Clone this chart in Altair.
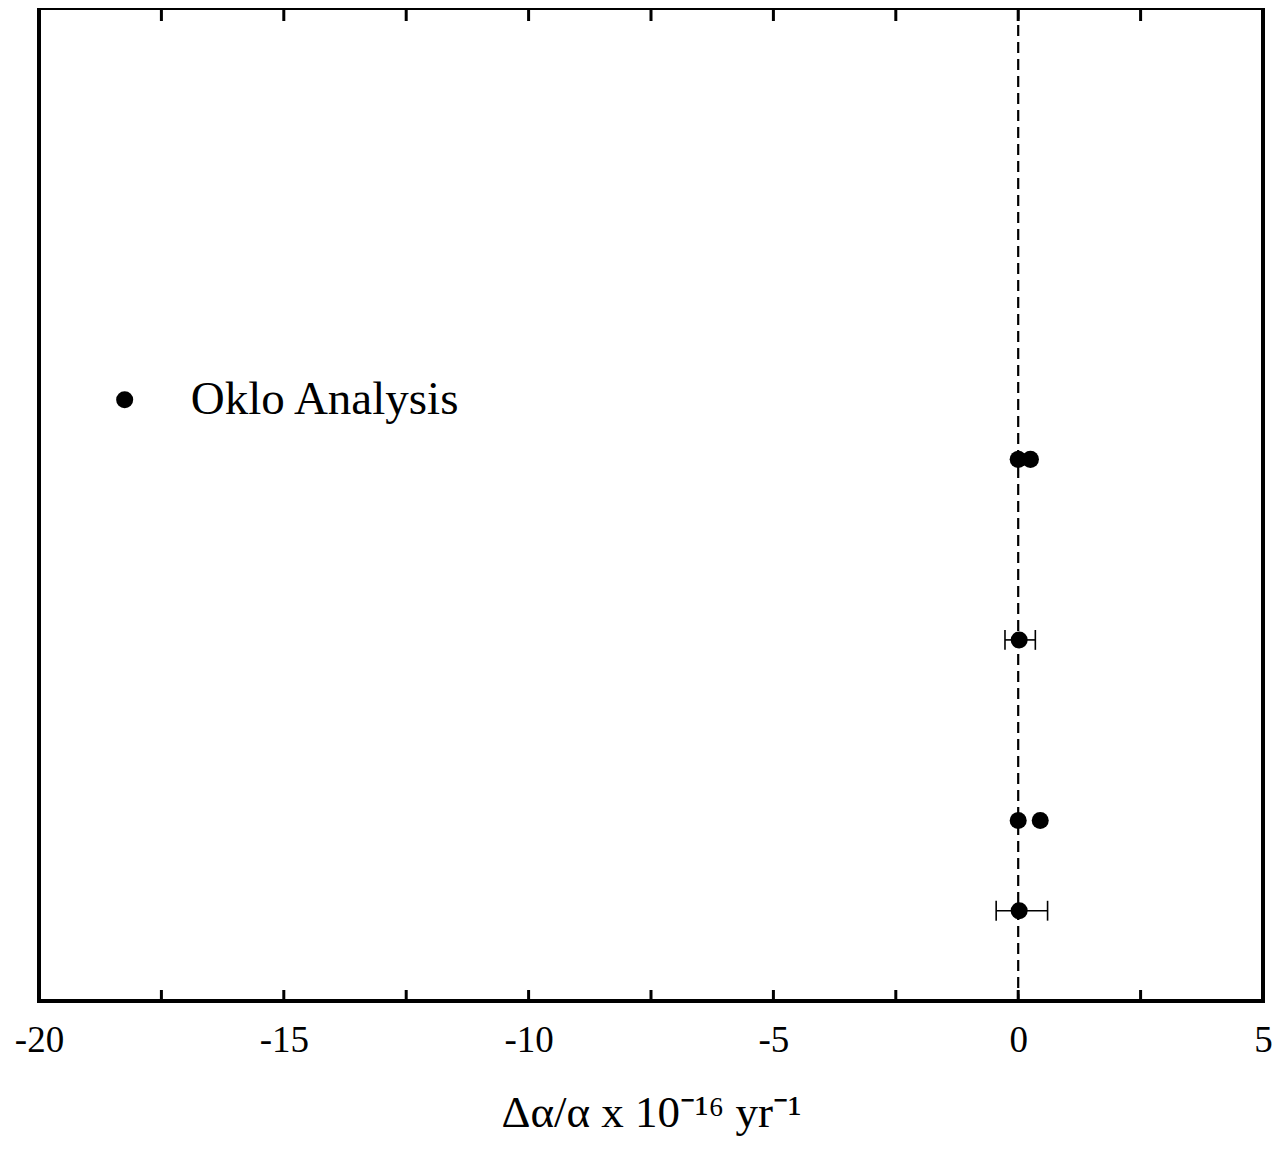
import altair as alt
import pandas as pd

# Data
pt_x = [0.0, 0.25, 0.02, 0.0, 0.45, 0.02]
pt_y = [6, 6, 4, 2, 2, 1]

err_lo = [-0.27, -0.45]
err_hi = [0.35, 0.6]
err_y = [4, 1]

minor_ticks = [-17.5, -15, -12.5, -10, -7.5, -5, -2.5, 0, 2.5]
label_ticks = [-20, -15, -10, -5, 0, 5]

legend_label = ["Oklo Analysis"]

FONT = "Liberation Serif"
W, H = 1224, 993
CAP = 0.11  # half cap height in y units
xs = alt.Scale(domain=[-20, 5], nice=False, zero=False)
ys = alt.Scale(domain=[0, 11], nice=False, zero=False)

pts = pd.DataFrame({"x": pt_x, "y": pt_y})
errs = pd.DataFrame({"lo": err_lo, "hi": err_hi, "y": err_y})
ticks = pd.DataFrame({"x": minor_ticks})
leg = pd.DataFrame({"label": legend_label, "xd": [-18.25], "xt": [-16.9], "y": [6.66]})

base_x = alt.X("x:Q", scale=xs,
               axis=alt.Axis(values=label_ticks, ticks=False, domain=False, grid=False,
                             labelFont=FONT, labelFontSize=37, labelColor="black",
                             labelPadding=21, labelExpr="'' + datum.value",
                             labelFlush=False, labelOverlap=False, labelBound=False,
                             title="Δα/α x 10⁻¹⁶ yr⁻¹", titleFont=FONT, titleFontSize=45,
                             titleFontWeight="normal", titleColor="black", titlePadding=32))
base_y = alt.Y("y:Q", scale=ys, axis=None)

points = alt.Chart(pts).mark_point(filled=True, shape="circle", size=290, color="black", opacity=1).encode(
    x=base_x, y=base_y)

zero_line = alt.Chart(pd.DataFrame({"x": [0]})).mark_rule(
    color="black", strokeWidth=2.2, strokeDash=[11, 6]
).encode(x=alt.X("x:Q", scale=xs), y=alt.value(0), y2=alt.value(H))

top_ticks = alt.Chart(ticks).mark_rule(color="black", strokeWidth=3).encode(
    x=alt.X("x:Q", scale=xs), y=alt.value(0), y2=alt.value(13))
bot_ticks = alt.Chart(ticks).mark_rule(color="black", strokeWidth=3).encode(
    x=alt.X("x:Q", scale=xs), y=alt.value(H - 11), y2=alt.value(H))

bars = alt.Chart(errs).mark_rule(color="black", strokeWidth=1.6).encode(
    x=alt.X("lo:Q", scale=xs), x2="hi:Q", y=alt.Y("y:Q", scale=ys))
caps_src = alt.Chart(errs).transform_calculate(
    y0=f"datum.y - {CAP}", y1=f"datum.y + {CAP}")
cap_lo = caps_src.mark_rule(color="black", strokeWidth=1.6).encode(
    x=alt.X("lo:Q", scale=xs), y=alt.Y("y0:Q", scale=ys), y2="y1:Q")
cap_hi = caps_src.mark_rule(color="black", strokeWidth=1.6).encode(
    x=alt.X("hi:Q", scale=xs), y=alt.Y("y0:Q", scale=ys), y2="y1:Q")

leg_dot = alt.Chart(leg).mark_point(filled=True, shape="circle", size=290, color="black", opacity=1).encode(
    x=alt.X("xd:Q", scale=xs), y=alt.Y("y:Q", scale=ys))
leg_txt = alt.Chart(leg).mark_text(font=FONT, fontSize=47, align="left", baseline="middle", color="black").encode(
    x=alt.X("xt:Q", scale=xs), y=alt.Y("y:Q", scale=ys), text="label:N")

chart = alt.layer(points, zero_line, top_ticks, bot_ticks, bars, cap_lo, cap_hi, leg_dot, leg_txt).properties(
    width=W, height=H,
    autosize=alt.AutoSizeParams(type="none"),
    padding={"left": 31, "top": 0, "right": 12, "bottom": 144},
    background="white",
).configure_view(stroke="black", strokeWidth=4)

chart.save("out.html", embed_options={"renderer": "svg", "actions": False})
